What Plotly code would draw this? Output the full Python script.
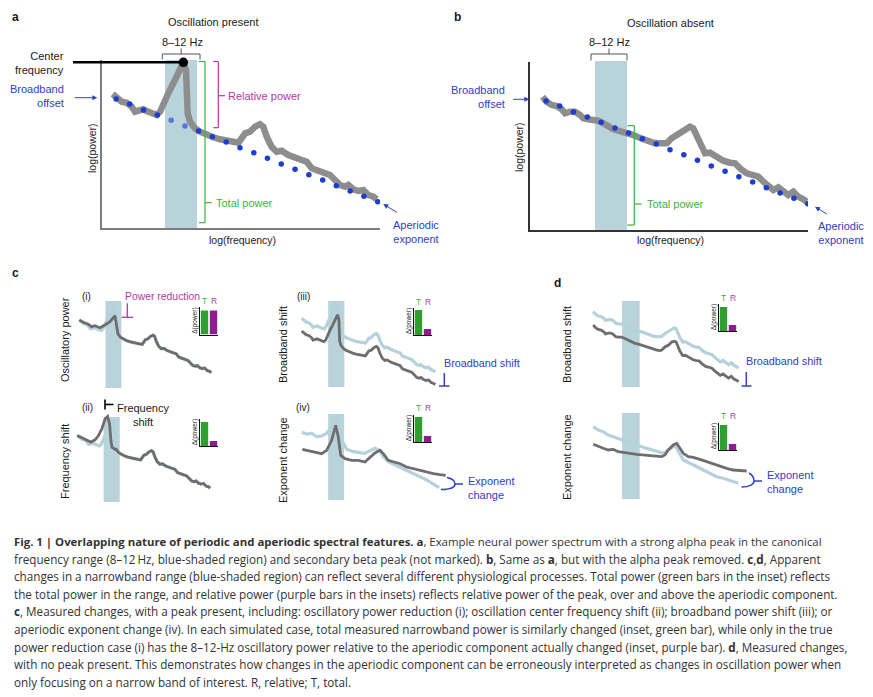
import math
import plotly.graph_objects as go

W, H = 873, 697

# ------------------------------------------------------------------ data
BAND_HZ = [8, 12]

# x = log10(frequency), y = log(power) (arbitrary units)
LOGF_A = [0.615, 0.637, 0.665, 0.692, 0.720, 0.738, 0.766, 0.784, 0.802, 0.830,
          0.858, 0.876, 0.894, 0.921, 0.949, 0.976, 1.004, 1.019, 1.026, 1.028,
          1.041, 1.068, 1.096, 1.133, 1.169, 1.206, 1.243, 1.279, 1.307, 1.325,
          1.344, 1.371, 1.399, 1.426, 1.444, 1.463, 1.490, 1.518, 1.545, 1.582,
          1.619, 1.656, 1.683, 1.711, 1.747, 1.784, 1.811, 1.839, 1.866, 1.894,
          1.912, 1.940, 1.967, 1.995, 2.022, 2.050, 2.068]
POW_A = [1.340, 1.297, 1.263, 1.253, 1.213, 1.163, 1.180, 1.187, 1.170, 1.153,
         1.130, 1.163, 1.247, 1.347, 1.447, 1.563, 1.657, 1.580, 1.380, 1.147,
         1.063, 0.997, 0.963, 0.930, 0.907, 0.887, 0.873, 0.863, 0.853, 0.897,
         0.947, 0.963, 1.013, 1.037, 1.013, 0.913, 0.813, 0.763, 0.773, 0.730,
         0.697, 0.680, 0.663, 0.597, 0.573, 0.547, 0.530, 0.480, 0.430, 0.413,
         0.430, 0.387, 0.370, 0.380, 0.330, 0.313, 0.287]

LOGF_B = [0.615, 0.637, 0.665, 0.692, 0.720, 0.738, 0.766, 0.793, 0.821, 0.839,
          0.866, 0.894, 0.921, 0.949, 0.976, 1.004, 1.031, 1.059, 1.086, 1.114,
          1.142, 1.169, 1.197, 1.224, 1.252, 1.279, 1.298, 1.325, 1.353, 1.371,
          1.399, 1.426, 1.444, 1.463, 1.481, 1.509, 1.536, 1.573, 1.609, 1.646,
          1.674, 1.701, 1.738, 1.774, 1.802, 1.830, 1.857, 1.885, 1.912, 1.940,
          1.967, 1.995, 2.022, 2.050, 2.068]
POW_B = [1.333, 1.283, 1.250, 1.240, 1.207, 1.167, 1.183, 1.183, 1.150, 1.117,
         1.107, 1.107, 1.093, 1.067, 1.033, 1.007, 0.993, 0.983, 0.967, 0.950,
         0.927, 0.907, 0.890, 0.873, 0.867, 0.860, 0.867, 0.917, 0.950, 0.967,
         1.017, 1.033, 1.017, 0.933, 0.850, 0.767, 0.773, 0.733, 0.693, 0.673,
         0.667, 0.617, 0.567, 0.550, 0.533, 0.483, 0.433, 0.400, 0.427, 0.383,
         0.350, 0.383, 0.333, 0.307, 0.283]

# aperiodic fit (blue dots)
LOGF_AP = [0.634, 0.709, 0.785, 0.861, 0.937, 1.013, 1.088, 1.164, 1.240, 1.316,
           1.392, 1.467, 1.543, 1.619, 1.695, 1.771, 1.846, 1.922, 1.998, 2.074]
POW_AP = [1.290, 1.240, 1.180, 1.130, 1.077, 1.020, 0.970, 0.913, 0.860, 0.803,
          0.753, 0.697, 0.640, 0.587, 0.533, 0.480, 0.423, 0.370, 0.317, 0.263]

# c(i): reduced alpha peak (low-frequency part, rest follows spectrum a)
LOGF_CI = [0.615, 0.659, 0.714, 0.751, 0.788, 0.843, 0.898, 0.953, 1.008, 1.019, 1.037]
POW_CI = [1.340, 1.294, 1.254, 1.206, 1.226, 1.186, 1.240, 1.306, 1.426, 1.306, 1.106]

# c(ii): alpha peak shifted to lower frequency
LOGF_CII = [0.615, 0.664, 0.719, 0.763, 0.810, 0.847, 0.884, 0.920, 0.946, 0.968, 0.983, 0.994, 1.030]
POW_CII = [1.340, 1.294, 1.240, 1.208, 1.254, 1.340, 1.474, 1.674, 1.720, 1.574, 1.240, 1.108, 1.060]

# c(iii), d (top): broadband offset
BROADBAND_SHIFT = 0.25

# c(iv): exponent change
LOGF_CIV_LIGHT = [0.612, 0.667, 0.722, 0.777, 0.832, 0.887, 0.942, 0.990, 1.033, 1.052,
                  1.107, 1.180, 1.253, 1.308, 1.363, 1.418, 1.474, 1.510, 1.565, 1.620,
                  1.694, 1.767, 1.840, 1.914, 1.987, 2.061, 2.124]
POW_CIV_LIGHT = [1.334, 1.300, 1.314, 1.246, 1.260, 1.314, 1.446, 1.680, 1.514, 1.180,
                 0.994, 0.946, 0.926, 0.914, 0.966, 1.014, 0.966, 0.846, 0.746, 0.700,
                 0.646, 0.580, 0.514, 0.446, 0.380, 0.300, 0.226]
LOGF_CIV_DARK = [0.619, 0.667, 0.722, 0.777, 0.832, 0.887, 0.942, 0.986, 1.015, 1.041,
                 1.089, 1.162, 1.235, 1.308, 1.363, 1.418, 1.474, 1.510, 1.565, 1.620,
                 1.694, 1.767, 1.840, 1.914, 1.987, 2.061, 2.134, 2.197]
POW_CIV_DARK = [0.994, 0.974, 0.940, 0.920, 0.906, 0.974, 1.174, 1.474, 1.240, 0.874,
                0.806, 0.774, 0.774, 0.740, 0.840, 0.920, 0.974, 0.906, 0.774, 0.740,
                0.706, 0.640, 0.606, 0.574, 0.540, 0.506, 0.486, 0.474]

# d (bottom): exponent change, no peak
LOGF_DL_LIGHT = [0.615, 0.665, 0.715, 0.765, 0.815, 0.865, 0.915, 0.982, 1.049, 1.115,
                 1.182, 1.249, 1.315, 1.365, 1.415, 1.442, 1.482, 1.515, 1.582, 1.649,
                 1.715, 1.782, 1.849, 1.915, 1.982, 2.065]
POW_DL_LIGHT = [1.333, 1.272, 1.240, 1.179, 1.148, 1.118, 1.087, 1.037, 0.994, 0.952,
                0.914, 0.870, 0.840, 0.902, 0.963, 0.963, 0.840, 0.716, 0.655, 0.592,
                0.531, 0.469, 0.407, 0.377, 0.333, 0.285]
LOGF_DL_DARK = [0.615, 0.665, 0.715, 0.765, 0.815, 0.865, 0.915, 0.982, 1.049, 1.115,
                1.182, 1.249, 1.299, 1.332, 1.365, 1.415, 1.449, 1.482, 1.515, 1.565,
                1.615, 1.682, 1.749, 1.815, 1.882, 1.949, 2.015, 2.082, 2.149]
POW_DL_DARK = [1.007, 0.963, 0.933, 0.902, 0.914, 0.870, 0.852, 0.840, 0.822, 0.809,
               0.790, 0.790, 0.778, 0.809, 0.902, 0.994, 1.025, 0.933, 0.840, 0.778,
               0.766, 0.729, 0.685, 0.655, 0.605, 0.562, 0.531, 0.518, 0.513]

# insets: change in power, (i) (ii) (iii) (iv) d-top d-bottom
INSET_CATS = ["T", "R"]
INSET_TOTAL = [0.96, 0.96, 1.00, 1.00, 0.96, 1.00]
INSET_REL = [0.96, 0.20, 0.24, 0.24, 0.24, 0.24]

CAPTION = [
    "<b>Fig. 1 | Overlapping nature of periodic and aperiodic spectral features. a</b>, Example neural power spectrum with a strong alpha peak in the canonical",
    "frequency range (8–12\u2009Hz, blue-shaded region) and secondary beta peak (not marked). <b>b</b>, Same as <b>a</b>, but with the alpha peak removed. <b>c</b>,<b>d</b>, Apparent",
    "changes in a narrowband range (blue-shaded region) can reflect several different physiological processes. Total power (green bars in the inset) reflects",
    "the total power in the range, and relative power (purple bars in the insets) reflects relative power of the peak, over and above the aperiodic component.",
    "<b>c</b>, Measured changes, with a peak present, including: oscillatory power reduction (i); oscillation center frequency shift (ii); broadband power shift (iii); or",
    "aperiodic exponent change (iv). In each simulated case, total measured narrowband power is similarly changed (inset, green bar), while only in the true",
    "power reduction case (i) has the 8–12-Hz oscillatory power relative to the aperiodic component actually changed (inset, purple bar). <b>d</b>, Measured changes,",
    "with no peak present. This demonstrates how changes in the aperiodic component can be erroneously interpreted as changes in oscillation power when",
    "only focusing on a narrow band of interest. R, relative; T, total.",
]
CAPTION_SIZES = [11.4, 11.7, 11.7, 11.7, 11.7, 11.7, 11.7, 11.7, 11.7]

# ------------------------------------------------------------------ styles
BLUE = "#3040c4"
DOT = "#1d3cd0"
DOT_IN = "#5578dc"
MAG = "#b23a9e"
GREEN = "#3db23d"
GREEN_BAR = "#2f9f2f"
PURPLE_BAR = "#8e1c8e"
GRAY_A = "#8d8d8d"
DARK = "#6e6e6e"
LIGHT = "#b5d1dc"
BAND = "#b9d3da"
INK = "#1a1a1a"
LAB = "Liberation Sans, Arial, sans-serif"
CAP = "Open Sans, sans-serif"

band_lo, band_hi = math.log10(BAND_HZ[0]), math.log10(BAND_HZ[1])


def fx(p):
    return p / W


def fy(p):
    return 1 - p / H


fig = go.Figure()
axes_layout = {}
shapes = []
annotations = []
counter = [0]


def new_axes(px0, px1, ptop, pbot, xr, yr, show=False, linecolor="#777", lw=1.5):
    counter[0] += 1
    n = counter[0]
    s = "" if n == 1 else str(n)
    common = dict(showgrid=False, zeroline=False, showticklabels=False, ticks="",
                  fixedrange=True, showline=show, linecolor=linecolor, linewidth=lw)
    axes_layout["xaxis" + s] = dict(domain=[fx(px0), fx(px1)], range=xr, anchor="y" + s, **common)
    axes_layout["yaxis" + s] = dict(domain=[fy(pbot), fy(ptop)], range=yr, anchor="x" + s, **common)
    return "x" + s, "y" + s


def small_axes(ref_u, ref_v, spx, spy, kx, ky, px0, px1, ptop, pbot):
    xr = [ref_u + (px0 - spx) / kx, ref_u + (px1 - spx) / kx]
    yr = [ref_v - (pbot - spy) / ky, ref_v + (spy - ptop) / ky]
    return new_axes(px0, px1, ptop, pbot, xr, yr)


def band(xref, ptop, pbot):
    shapes.append(dict(type="rect", xref=xref, yref="paper", x0=band_lo, x1=band_hi,
                       y0=fy(pbot), y1=fy(ptop), fillcolor=BAND, line=dict(width=0), layer="below"))


def seg(x0, y0, x1, y1, color, width=1.2):
    shapes.append(dict(type="line", xref="paper", yref="paper", x0=fx(x0), y0=fy(y0),
                       x1=fx(x1), y1=fy(y1), line=dict(color=color, width=width)))


def path(cmds, color, width=1.5):
    parts = []
    for c in cmds:
        op, pts = c[0], c[1:]
        parts.append(op + " " + " ".join(f"{fx(px):.5f},{fy(py):.5f}" for px, py in pts))
    shapes.append(dict(type="path", xref="paper", yref="paper", path=" ".join(parts),
                       line=dict(color=color, width=width)))


def text(x, y, s, size=11, color=INK, xa="center", ya="middle", angle=0, family=LAB, align="center"):
    annotations.append(dict(x=fx(x), y=fy(y), xref="paper", yref="paper", text=s, showarrow=False,
                            font=dict(family=family, size=size, color=color), xanchor=xa, yanchor=ya,
                            textangle=angle, align=align))


def arrow(hx, hy, tx, ty, color):
    annotations.append(dict(x=fx(hx), y=fy(hy), ax=tx - hx, ay=ty - hy, xref="paper", yref="paper",
                            axref="pixel", ayref="pixel", showarrow=True, arrowhead=2, arrowsize=1,
                            arrowwidth=1, arrowcolor=color, text="", standoff=0))


def bracket_v(x, ytop, ybot, tick_left, mid_y, mid_right, color):
    seg(tick_left, ytop, x, ytop, color)
    seg(x, ytop, x, ybot, color)
    seg(tick_left, ybot, x, ybot, color)
    seg(x, mid_y, mid_right, mid_y, color)


def bracket_top(x0, x1, y, ydown, yup, color="#555"):
    seg(x0, ydown, x0, y, color, 1)
    seg(x0, y, x1, y, color, 1)
    seg(x1, y, x1, ydown, color, 1)
    seg((x0 + x1) / 2, y, (x0 + x1) / 2, yup, color, 1)


def line_trace(xs, ys, ax, color, width):
    fig.add_trace(go.Scatter(x=xs, y=ys, xaxis=ax[0], yaxis=ax[1], mode="lines",
                             line=dict(color=color, width=width), hoverinfo="skip"))


def splice(lx, ly, bx, by):
    cut = lx[-1]
    xs = list(lx) + [u for u in bx if u > cut]
    ys = list(ly) + [v for u, v in zip(bx, by) if u > cut]
    return xs, ys


def shifted(vals, d):
    return [v + d for v in vals]


# ------------------------------------------------------------------ panel a
A_X0, A_X1, A_R = 102, 380, [0.5564, 2.0865]
axA = new_axes(A_X0, A_X1, 60, 228, A_R, [0, 1.68], show=True, linecolor="#7d7d7d")
band(axA[0], 60, 228)
line_trace(LOGF_A, POW_A, axA, GRAY_A, 6.5)
fig.add_trace(go.Scatter(x=LOGF_AP, y=POW_AP, xaxis=axA[0], yaxis=axA[1], mode="markers",
                         marker=dict(size=5.5, color=[DOT_IN if band_lo <= u <= band_hi else DOT for u in LOGF_AP]),
                         hoverinfo="skip"))
ip = max(range(len(POW_A)), key=lambda i: POW_A[i])
peak_px = A_X0 + (LOGF_A[ip] - A_R[0]) / (A_R[1] - A_R[0]) * (A_X1 - A_X0)
peak_py = 228 - POW_A[ip] / 1.68 * 168
seg(73, peak_py, peak_px, peak_py, "#000", 2.5)
fig.add_trace(go.Scatter(x=[LOGF_A[ip]], y=[POW_A[ip]], xaxis=axA[0], yaxis=axA[1], mode="markers",
                         marker=dict(size=9.5, color="#000"), cliponaxis=False, hoverinfo="skip"))

text(15, 17, "<b>a</b>", size=12)
text(213, 22, "Oscillation present", size=11)
text(182, 42, "8–12 Hz", size=11)
bracket_top(162.3, 200, 54, 59.5, 48.5)
text(66, 63.5, "Center<br>frequency", size=11, xa="right", align="right")
text(66, 96.5, "Broadband<br>offset", size=11, xa="right", align="right", color=BLUE)
arrow(97.3, 97.7, 73.3, 97.7, BLUE)
bracket_v(218.3, 61.5, 127.7, 213.3, 95.7, 225, MAG)
text(226, 96, "Relative power", size=11, xa="left", color=MAG)
bracket_v(205, 61.5, 222.7, 199, 202.7, 211.7, GREEN)
text(214, 203, "Total power", size=11, xa="left", color=GREEN)
text(416, 232, "Aperiodic<br>exponent", size=11, color=BLUE)
arrow(383.3, 204, 398.3, 213.3, BLUE)
text(92, 148, "log(power)", size=10.5, angle=-90)
text(242, 239.5, "log(frequency)", size=10.5)

# ------------------------------------------------------------------ panel b
axB = new_axes(530, 808, 62, 230, [0.5454, 2.0755], [0, 1.68], show=True, linecolor="#333")
band(axB[0], 61, 230)
line_trace(LOGF_B, POW_B, axB, GRAY_A, 6.5)
fig.add_trace(go.Scatter(x=LOGF_AP, y=POW_AP, xaxis=axB[0], yaxis=axB[1], mode="markers",
                         marker=dict(size=5.5, color=DOT), hoverinfo="skip"))
text(457, 17, "<b>b</b>", size=12)
text(670, 23, "Oscillation absent", size=11)
text(609, 42, "8–12 Hz", size=11)
bracket_top(591, 627, 54, 60.5, 48.5)
text(507, 97, "Broadband<br>offset", size=11, xa="right", align="right", color=BLUE)
arrow(529.3, 99.3, 511.7, 99.3, BLUE)
bracket_v(634.3, 125.7, 225, 627.3, 204, 641.7, GREEN)
text(645, 204, "Total power", size=11, xa="left", color=GREEN)
text(841, 233, "Aperiodic<br>exponent", size=11, color=BLUE)
arrow(815, 206.7, 828.3, 215, BLUE)
text(519, 147, "log(power)", size=10.5, angle=-90)
text(670, 240, "log(frequency)", size=10.5)

# ------------------------------------------------------------------ panel c
text(15, 273, "<b>c</b>", size=12)

# (i) oscillatory power
axCi = small_axes(0.6153, 1.34, 79.3, 320, 90.85, 50, 72, 240, 288, 398)
band(axCi[0], 301, 388)
line_trace(LOGF_A, POW_A, axCi, LIGHT, 3.2)
xs, ys = splice(LOGF_CI, POW_CI, LOGF_A, POW_A)
line_trace(xs, ys, axCi, DARK, 2.8)
text(86, 296, "(i)", size=10)
text(65, 340, "Oscillatory power", size=11, angle=-90)
text(123, 296, "Power reduction", size=10.4, xa="left", color=MAG)
seg(127.3, 303.3, 127.3, 317.3, MAG, 1.3)
seg(121.7, 317.3, 133.3, 317.3, MAG, 1.3)

# (ii) frequency shift
axCii = small_axes(0.6153, 1.34, 77.3, 435.5, 91.5, 50, 70, 240, 405, 510)
band(axCii[0], 417, 502)
line_trace(LOGF_A, POW_A, axCii, LIGHT, 3.2)
xs, ys = splice(LOGF_CII, POW_CII, LOGF_A, POW_A)
line_trace(xs, ys, axCii, DARK, 2.8)
text(87, 407, "(ii)", size=10)
text(65, 462, "Frequency shift", size=11, angle=-90)
seg(105, 399.5, 105, 409.5, "#000", 1.6)
seg(105, 404.5, 113.5, 404.5, "#000", 1.6)
text(143, 415, "Frequency<br>shift", size=11)

# (iii) broadband shift
axCiii = small_axes(0.6153, 1.34, 301.7, 331, 92, 51, 295, 470, 288, 398)
band(axCiii[0], 301, 387)
line_trace(LOGF_A, shifted(POW_A, BROADBAND_SHIFT), axCiii, LIGHT, 3.2)
line_trace(LOGF_A, POW_A, axCiii, DARK, 2.8)
text(303, 296, "(iii)", size=10)
text(283, 345, "Broadband shift", size=11, angle=-90)
text(442, 363, "Broadband shift", size=10.8, xa="left", color=BLUE)
seg(444.3, 373, 444.3, 386, BLUE, 1.5)
seg(439, 386, 449.5, 386, BLUE, 1.5)

# (iv) exponent change
axCiv = small_axes(0.6153, 1.34, 302, 432, 90.85, 50, 295, 470, 405, 510)
band(axCiv[0], 414, 500)
line_trace(LOGF_CIV_LIGHT, POW_CIV_LIGHT, axCiv, LIGHT, 3.2)
line_trace(LOGF_CIV_DARK, POW_CIV_DARK, axCiv, DARK, 2.8)
text(303, 407, "(iv)", size=10)
text(283, 460, "Exponent change", size=11, angle=-90)
path([("M", (447, 477.5)), ("C", (452, 478.5), (455, 481), (455, 484)),
      ("C", (455, 487.5), (450, 489.5), (441, 489.5)), ("M", (455, 484)), ("L", (463, 484))], BLUE, 1.5)
text(466, 488, "Exponent<br>change", size=11, xa="left", align="left", color=BLUE)

# ------------------------------------------------------------------ panel d
text(557, 283, "<b>d</b>", size=12)

axDu = small_axes(0.6153, 1.333, 593.3, 325, 100, 54, 586, 765, 288, 398)
band(axDu[0], 301, 387)
line_trace(LOGF_B, shifted(POW_B, BROADBAND_SHIFT), axDu, LIGHT, 3.2)
line_trace(LOGF_B, POW_B, axDu, DARK, 2.8)
text(567, 345, "Broadband shift", size=11, angle=-90)
text(744, 361, "Broadband shift", size=10.8, xa="left", color=BLUE)
seg(746.3, 372, 746.3, 386, BLUE, 1.5)
seg(741.5, 386, 751.5, 386, BLUE, 1.5)

axDl = small_axes(0.6153, 1.333, 593.3, 426.7, 100, 54, 586, 765, 405, 510)
band(axDl[0], 413, 499)
line_trace(LOGF_DL_LIGHT, POW_DL_LIGHT, axDl, LIGHT, 3.2)
line_trace(LOGF_DL_DARK, POW_DL_DARK, axDl, DARK, 2.8)
text(567, 457, "Exponent change", size=11, angle=-90)
path([("M", (749, 473)), ("C", (752.5, 475), (754, 478), (754, 481)),
      ("C", (754, 484.5), (749, 487), (741.5, 487)), ("M", (754, 481)), ("L", (762, 481))], BLUE, 1.5)
text(765, 481.5, "Exponent<br>change", size=11, xa="left", align="left", color=BLUE)

# ------------------------------------------------------------------ insets
INSET_POS = [(200, 307, 334.5, True), (200, 418.5, 446, False), (414, 307.5, 335, True),
             (414, 414.5, 442, True), (719, 303.5, 331, True), (719, 422.5, 450, True)]
for k, (px0, ptop, pbot, labels) in enumerate(INSET_POS):
    ax = new_axes(px0, px0 + 18, ptop, pbot, [-0.5, 1.5], [0, 1.1], show=True, linecolor="#111", lw=1)
    fig.add_trace(go.Bar(x=[0, 1], y=[INSET_TOTAL[k], INSET_REL[k]], xaxis=ax[0], yaxis=ax[1],
                         width=0.82, marker=dict(color=[GREEN_BAR, PURPLE_BAR], line=dict(width=0)),
                         hoverinfo="skip"))
    text(px0 - 5, (ptop + pbot) / 2, "Δ(power)", size=6.5, angle=-90)
    if labels:
        for i, (cat, col) in enumerate(zip(INSET_CATS, [GREEN, MAG])):
            annotations.append(dict(x=i, y=fy(ptop + 1), xref=ax[0], yref="paper", text=cat,
                                    showarrow=False, yanchor="bottom", xanchor="center",
                                    font=dict(family=LAB, size=8.5, color=col)))

# ------------------------------------------------------------------ caption
CAP_Y0, CAP_DY = 541, 17.6
for i, line in enumerate(CAPTION):
    text(11.5, CAP_Y0 + i * CAP_DY, line, size=CAPTION_SIZES[i], color="#333", xa="left",
         family=CAP, align="left")

fig.update_layout(
    width=W, height=H, margin=dict(l=0, r=0, t=0, b=0),
    paper_bgcolor="white", plot_bgcolor="rgba(0,0,0,0)",
    showlegend=False, bargap=0.1,
    shapes=shapes, annotations=annotations, **axes_layout,
)
fig.write_html("out.html", config={"displayModeBar": False},
               post_script="document.body.style.margin='0';document.body.style.overflow='hidden';")
